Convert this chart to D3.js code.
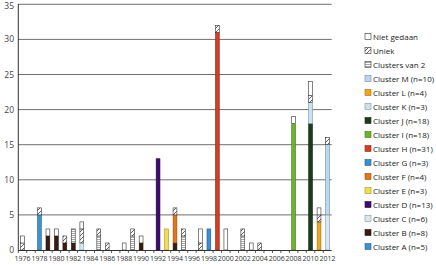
<!DOCTYPE html>
<html>
<head>
<meta charset="utf-8">
<script src="https://cdn.jsdelivr.net/npm/d3@7"></script>
<style>
  body { margin: 0; background: #fff; }
  text { font-family: "Open Sans", "Noto Sans", sans-serif; }
</style>
</head>
<body>
<div id="chart"></div>
<script>
// years on the x axis
var years = d3.range(1976, 2013);
var yTicks = [0, 5, 10, 15, 20, 25, 30, 35];

// one array per series, one value per year 1976..2012
var clusterA   = [0,0,5,0,0,0,0,0,0,0,0,0,0,0,0,0,0,0,0,0,0,0,0,0,0,0,0,0,0,0,0,0,0,0,0,0,0];
var clusterB   = [0,0,0,2,2,1,1,0,0,0,0,0,0,0,1,0,0,0,1,0,0,0,0,0,0,0,0,0,0,0,0,0,0,0,0,0,0];
var clusterC   = [0,0,0,0,0,0,0,1,0,0,0,0,0,0,0,0,0,0,0,0,0,0,0,0,0,0,0,0,0,0,0,0,0,0,0,0,5];
var clusterD   = [0,0,0,0,0,0,0,0,0,0,0,0,0,0,0,0,13,0,0,0,0,0,0,0,0,0,0,0,0,0,0,0,0,0,0,0,0];
var clusterE   = [0,0,0,0,0,0,0,0,0,0,0,0,0,0,0,0,0,3,0,0,0,0,0,0,0,0,0,0,0,0,0,0,0,0,0,0,0];
var clusterF   = [0,0,0,0,0,0,0,0,0,0,0,0,0,0,0,0,0,0,4,0,0,0,0,0,0,0,0,0,0,0,0,0,0,0,0,0,0];
var clusterG   = [0,0,0,0,0,0,0,0,0,0,0,0,0,0,0,0,0,0,0,0,0,0,3,0,0,0,0,0,0,0,0,0,0,0,0,0,0];
var clusterH   = [0,0,0,0,0,0,0,0,0,0,0,0,0,0,0,0,0,0,0,0,0,0,0,31,0,0,0,0,0,0,0,0,0,0,0,0,0];
var clusterI   = [0,0,0,0,0,0,0,0,0,0,0,0,0,0,0,0,0,0,0,0,0,0,0,0,0,0,0,0,0,0,0,0,18,0,0,0,0];
var clusterJ   = [0,0,0,0,0,0,0,0,0,0,0,0,0,0,0,0,0,0,0,0,0,0,0,0,0,0,0,0,0,0,0,0,0,0,18,0,0];
var clusterK   = [0,0,0,0,0,0,0,0,0,0,0,0,0,0,0,0,0,0,0,0,0,0,0,0,0,0,0,0,0,0,0,0,0,0,3,0,0];
var clusterL   = [0,0,0,0,0,0,0,0,0,0,0,0,0,0,0,0,0,0,0,0,0,0,0,0,0,0,0,0,0,0,0,0,0,0,0,4,0];
var clusterM   = [0,0,0,0,0,0,0,0,0,0,0,0,0,0,0,0,0,0,0,0,0,0,0,0,0,0,0,0,0,0,0,0,0,0,0,0,10];
var clusters2  = [0,0,0,0,0,0,2,0,0,2,0,0,0,2,0,0,0,0,0,2,0,0,0,0,0,0,2,0,0,0,0,0,0,0,0,0,0];
var uniek      = [1,0,1,0,0,1,0,2,0,1,1,0,0,1,0,0,0,0,1,1,0,1,0,1,0,0,1,0,1,0,0,0,0,0,1,1,1];
var nietGedaan = [1,0,0,1,1,0,0,1,0,0,0,0,1,0,1,0,0,0,0,0,0,2,0,0,3,0,0,1,0,0,0,0,1,0,2,1,0];

// stacking order bottom to top, legend shows it reversed
var series = [
  { name: "Cluster A (n=5)",  values: clusterA,   fill: "#3d93cf" },
  { name: "Cluster B (n=8)",  values: clusterB,   fill: "#3a1b12" },
  { name: "Cluster C (n=6)",  values: clusterC,   fill: "#d7e8f1" },
  { name: "Cluster D (n=13)", values: clusterD,   fill: "#3e0d6c" },
  { name: "Cluster E (n=3)",  values: clusterE,   fill: "#f3df4b" },
  { name: "Cluster F (n=4)",  values: clusterF,   fill: "#e0771d" },
  { name: "Cluster G (n=3)",  values: clusterG,   fill: "#3a8fd0" },
  { name: "Cluster H (n=31)", values: clusterH,   fill: "#d23d26" },
  { name: "Cluster I (n=18)", values: clusterI,   fill: "#6bb42e" },
  { name: "Cluster J (n=18)", values: clusterJ,   fill: "#1d3b1d" },
  { name: "Cluster K (n=3)",  values: clusterK,   fill: "#c9e2f2" },
  { name: "Cluster L (n=4)",  values: clusterL,   fill: "#f0a51f" },
  { name: "Cluster M (n=10)", values: clusterM,   fill: "#b7d9ef" },
  { name: "Clusters van 2",   values: clusters2,  fill: "url(#stripes)" },
  { name: "Uniek",            values: uniek,      fill: "url(#hatch)" },
  { name: "Niet gedaan",      values: nietGedaan, fill: "#fff" }
];

var width = 436, height = 265;

var svg = d3.select("#chart")
  .append("svg")
  .attr("width", width).attr("height", height);

// patterns for the white categories
var defs = svg.append("defs");
var hatch = defs.append("pattern")
  .attr("id", "hatch")
  .attr("patternUnits", "userSpaceOnUse")
  .attr("width", 4).attr("height", 4);
hatch.append("rect").attr("width", 4).attr("height", 4).attr("fill", "#fff");
hatch.append("path").attr("d", "M0,4 L4,0").attr("stroke", "#222").attr("stroke-width", 0.7);

var stripes = defs.append("pattern")
  .attr("id", "stripes")
  .attr("patternUnits", "userSpaceOnUse")
  .attr("width", 4).attr("height", 2);
stripes.append("rect").attr("width", 4).attr("height", 2).attr("fill", "#fff");
stripes.append("rect").attr("y", 1).attr("width", 4).attr("height", 1).attr("fill", "#aaa");

var x = d3.scaleBand()
  .domain(years)
  .range([18.3, 331.7])
  .paddingInner(0.55)
  .paddingOuter(0.27);

var y = d3.scaleLinear()
  .domain([0, 35])
  .range([250, 4.3]);

function strokeFor(f) {
  if (f.indexOf("url") == 0 || f == "#fff") return "#333";
  return d3.color(f).darker(1.2);
}

// gridlines
svg.append("g")
  .selectAll("line")
  .data(yTicks.slice(1))
  .join("line")
  .attr("x1", 18).attr("x2", 331.7)
  .attr("y1", d => y(d)).attr("y2", d => y(d))
  .attr("stroke", "#6f6f6f")
  .attr("stroke-width", 1);

// y axis labels
svg.append("g")
  .selectAll("text")
  .data(yTicks)
  .join("text")
  .attr("x", 14)
  .attr("y", d => Math.max(y(d) + 3, 9))
  .attr("text-anchor", "end")
  .attr("font-size", 8.5)
  .attr("fill", "#444")
  .text(d => d);

// stacked bars
var table = years.map(function (yr, i) {
  var row = { year: yr };
  series.forEach(function (s) { row[s.name] = s.values[i]; });
  return row;
});
var stack = d3.stack().keys(series.map(s => s.name));
var layers = stack(table);

svg.append("g")
  .selectAll("g")
  .data(layers)
  .join("g")
  .attr("fill", (d, i) => series[i].fill)
  .attr("stroke", (d, i) => strokeFor(series[i].fill))
  .attr("stroke-width", 0.6)
  .selectAll("rect")
  .data(d => d.filter(p => p[1] > p[0]))
  .join("rect")
  .attr("x", d => x(d.data.year))
  .attr("width", x.bandwidth())
  .attr("y", d => y(d[1]))
  .attr("height", d => y(d[0]) - y(d[1]));

// axes lines
svg.append("line")
  .attr("x1", 18.3).attr("x2", 18.3)
  .attr("y1", 4).attr("y2", 250.5)
  .attr("stroke", "#333").attr("stroke-width", 1);
svg.append("line")
  .attr("x1", 18).attr("x2", 331.7)
  .attr("y1", 250.5).attr("y2", 250.5)
  .attr("stroke", "#333").attr("stroke-width", 1);

// small ticks between the years
var step = x.step();
svg.append("g")
  .selectAll("line")
  .data(years)
  .join("line")
  .attr("x1", d => x(d) - step * 0.55 / 2)
  .attr("x2", d => x(d) - step * 0.55 / 2)
  .attr("y1", 250.5).attr("y2", 253)
  .attr("stroke", "#333").attr("stroke-width", 0.8);

// x labels every other year
svg.append("g")
  .selectAll("text")
  .data(years.filter(d => d % 2 == 0))
  .join("text")
  .attr("x", d => x(d) + x.bandwidth() / 2)
  .attr("y", 261)
  .attr("text-anchor", "middle")
  .attr("font-size", 7)
  .attr("fill", "#333")
  .text(d => d);

// legend
var legend = svg.append("g")
  .selectAll("g")
  .data(series.slice().reverse())
  .join("g")
  .attr("transform", (d, i) => "translate(365," + (37 + i * 14) + ")");

legend.append("rect")
  .attr("x", 0).attr("y", -3.5)
  .attr("width", 6).attr("height", 6)
  .attr("fill", d => d.fill)
  .attr("stroke", d => strokeFor(d.fill))
  .attr("stroke-width", 0.6);

legend.append("text")
  .attr("x", 8)
  .attr("y", 2.8)
  .attr("font-size", 8)
  .attr("fill", "#222")
  .text(d => d.name);
</script>
</body>
</html>
